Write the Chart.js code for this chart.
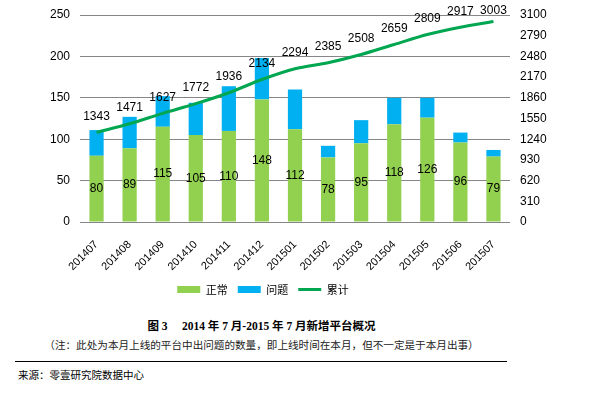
<!DOCTYPE html>
<html><head><meta charset="utf-8">
<script src="https://cdn.jsdelivr.net/npm/chart.js@4/dist/chart.umd.min.js"></script>
<style>
html,body{margin:0;padding:0;background:#fff;}
body{width:595px;height:393px;overflow:hidden;position:relative;font-family:"Noto Sans CJK SC",sans-serif;color:#000;}
#wrap{position:absolute;left:0;top:0;width:595px;height:305px;}
.title{position:absolute;left:0;width:523px;top:318px;text-align:center;font-weight:bold;font-size:11.5px;font-family:"Liberation Serif","Noto Sans CJK SC",serif;white-space:pre;line-height:16px;}
.note{position:absolute;left:0;width:523px;top:337px;text-align:center;font-size:10.6px;line-height:16px;color:#222;}
.rule{position:absolute;left:15px;width:492px;top:361px;height:0;border-top:1px solid #000;}
.src{position:absolute;left:18px;top:367px;font-size:10.5px;line-height:16px;}
</style></head>
<body>
<div id="wrap"><canvas id="c" width="595" height="305"></canvas></div>
<div class="title">图 3     2014 年 7 月-2015 年 7 月新增平台概况</div>
<div class="note">（注：此处为本月上线的平台中出问题的数量，即上线时间在本月，但不一定是于本月出事）</div>
<div class="rule"></div>
<div class="src">来源：零壹研究院数据中心</div>
<script>
const categories = ["201407","201408","201409","201410","201411","201412","201501","201502","201503","201504","201505","201506","201507"];
const normalValues = [80, 89, 115, 105, 110, 148, 112, 78, 95, 118, 126, 96, 79];
const problemValues = [31, 38, 37, 39, 54, 50, 48, 14, 28, 32, 24, 12, 8];
const cumulativeValues = [1343, 1471, 1627, 1772, 1936, 2134, 2294, 2385, 2508, 2659, 2809, 2917, 3003];
const seriesNames = ["正常", "问题", "累计"];

const GREEN = "#92D050", BLUE = "#00B0F0", LINE = "#00A650";

const labelPlugin = {
  id: "valueLabels",
  afterLayout(chart) {
    const lg = chart.legend;
    if (lg) { lg.right = 526; lg.width = lg.right - lg.left; }
  },
  afterDatasetsDraw(chart) {
    const ctx = chart.ctx;
    ctx.save();
    ctx.font = '12px "Liberation Sans", Arial, sans-serif';
    ctx.fillStyle = "#000";
    ctx.textAlign = "center";
    ctx.textBaseline = "middle";
    const m0 = chart.getDatasetMeta(0);
    m0.data.forEach((bar, i) => {
      ctx.fillText(String(normalValues[i]), bar.x, (bar.y + bar.base) / 2);
    });
    const m2 = chart.getDatasetMeta(2);
    m2.data.forEach((pt, i) => {
      ctx.fillText(String(cumulativeValues[i]), pt.x, Math.max(pt.y - 16, 11));
    });
    ctx.restore();
  }
};

new Chart(document.getElementById("c"), {
  data: {
    labels: categories,
    datasets: [
      { type: "bar", label: seriesNames[0], data: normalValues, backgroundColor: GREEN, borderWidth: 0, yAxisID: "y", stack: "s", order: 2, barPercentage: 0.43, categoryPercentage: 1 },
      { type: "bar", label: seriesNames[1], data: problemValues, backgroundColor: BLUE, borderWidth: 0, yAxisID: "y", stack: "s", order: 2, barPercentage: 0.43, categoryPercentage: 1 },
      { type: "line", label: seriesNames[2], data: cumulativeValues, borderColor: LINE, backgroundColor: LINE, borderWidth: 3, pointRadius: 0, tension: 0.3, yAxisID: "y1", order: 0 }
    ]
  },
  options: {
    responsive: false,
    animation: false,
    events: [],
    layout: { padding: { top: 0, left: 0, right: 0, bottom: 0 } },
    plugins: {
      tooltip: { enabled: false },
      legend: {
        position: "bottom",
        labels: {
          usePointStyle: true,
          pointStyleWidth: 23,
          boxWidth: 23,
          boxHeight: 7,
          padding: 10,
          color: "#000",
          font: { family: '"Noto Sans CJK SC", sans-serif', size: 11 },
          generateLabels: (chart) => chart.data.datasets.map((ds, i) => ({
            text: ds.label,
            datasetIndex: i,
            fillStyle: ds.backgroundColor,
            strokeStyle: ds.type === "line" ? ds.borderColor : ds.backgroundColor,
            lineWidth: ds.type === "line" ? 3 : 0,
            pointStyle: ds.type === "line" ? "line" : "rect",
            hidden: false,
            fontColor: "#000"
          }))
        }
      }
    },
    scales: {
      x: {
        stacked: true,
        offset: true,
        grid: { display: false },
        border: { display: false },
        ticks: { color: "#000", maxRotation: 45, minRotation: 45, padding: 8, font: { family: '"Liberation Sans", Arial, sans-serif', size: 11 } },
        afterFit(s) { s.height = 52; }
      },
      y: {
        stacked: true,
        position: "left",
        min: 0, max: 250,
        ticks: { stepSize: 50, color: "#000", padding: 10, font: { family: '"Liberation Sans", Arial, sans-serif', size: 12 } },
        grid: { color: "#868686", lineWidth: 1, drawTicks: false },
        border: { display: false },
        afterFit(s) { s.width = 80; s.paddingTop = 15; }
      },
      y1: {
        position: "right",
        min: 0, max: 3100,
        ticks: { stepSize: 310, color: "#000", padding: 10, font: { family: '"Liberation Sans", Arial, sans-serif', size: 12 }, callback: (v) => String(v) },
        grid: { drawOnChartArea: false, drawTicks: false },
        border: { display: false },
        afterFit(s) { s.width = 85; s.paddingTop = 15; }
      }
    }
  },
  plugins: [labelPlugin]
});
</script>
</body></html>
